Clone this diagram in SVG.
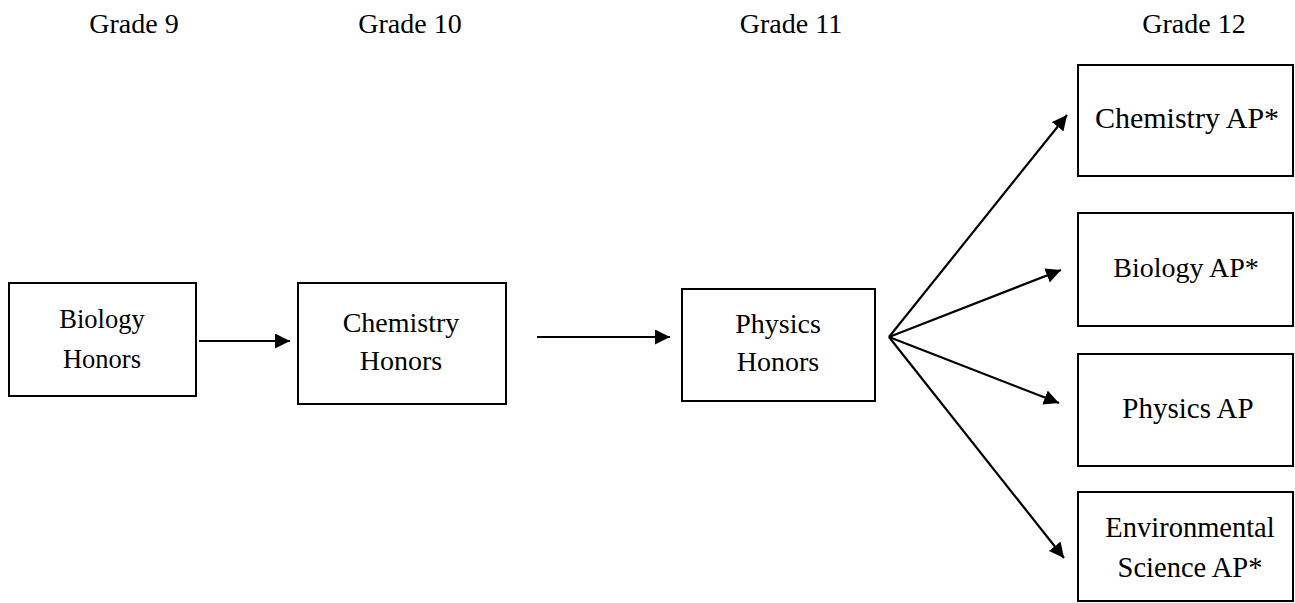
<svg xmlns="http://www.w3.org/2000/svg" width="1295" height="603" viewBox="0 0 1295 603">
<style>
.box{fill:#fff;stroke:#000;stroke-width:2}
text{font-family:"Liberation Serif","Times New Roman",serif;font-size:28px;fill:#000;text-anchor:middle}
.hdr{font-size:28px}
.con{stroke:#000;stroke-width:2.2;fill:none;marker-end:url(#ah)}
</style>
<defs>
<marker id="ah" markerUnits="userSpaceOnUse" markerWidth="16" markerHeight="15" refX="15" refY="7.5" orient="auto">
<path d="M0,0 L15,7.5 L0,15 z" fill="#000"/>
</marker>
</defs>
<g id="headers">
<text class="hdr" x="134" y="33">Grade 9</text>
<text class="hdr" x="410" y="33">Grade 10</text>
<text class="hdr" x="791" y="33">Grade 11</text>
<text class="hdr" x="1194" y="33">Grade 12</text>
</g>
<g id="bio-honors">
<rect class="box" x="9" y="283" width="187" height="113"/>
<text x="102" y="328" style="font-size:26.5px">Biology</text>
<text x="102" y="368" style="font-size:26.5px">Honors</text>
</g>
<g id="chem-honors">
<rect class="box" x="298" y="283" width="208" height="121"/>
<text x="401" y="332">Chemistry</text>
<text x="401" y="370">Honors</text>
</g>
<g id="phys-honors">
<rect class="box" x="682" y="289" width="193" height="112"/>
<text x="778" y="333">Physics</text>
<text x="778" y="371">Honors</text>
</g>
<g id="chem-ap">
<rect class="box" x="1078" y="65" width="215" height="111"/>
<text x="1187" y="128" style="font-size:30px">Chemistry AP*</text>
</g>
<g id="bio-ap">
<rect class="box" x="1078" y="213" width="215" height="113"/>
<text x="1186" y="277">Biology AP*</text>
</g>
<g id="phys-ap">
<rect class="box" x="1078" y="354" width="215" height="112"/>
<text x="1188" y="418" style="font-size:29px">Physics AP</text>
</g>
<g id="env-ap">
<rect class="box" x="1078" y="492" width="215" height="109"/>
<text x="1190" y="537" style="font-size:28.5px">Environmental</text>
<text x="1190" y="577" style="font-size:28.5px">Science AP*</text>
</g>
<g id="connectors">
<line class="con" x1="199" y1="341" x2="290" y2="341"/>
<line class="con" x1="537" y1="337" x2="670" y2="337"/>
<line class="con" x1="889" y1="337" x2="1067" y2="115"/>
<line class="con" x1="889" y1="337" x2="1061" y2="270"/>
<line class="con" x1="889" y1="337" x2="1059" y2="403"/>
<line class="con" x1="889" y1="337" x2="1064" y2="558"/>
</g>
</svg>
